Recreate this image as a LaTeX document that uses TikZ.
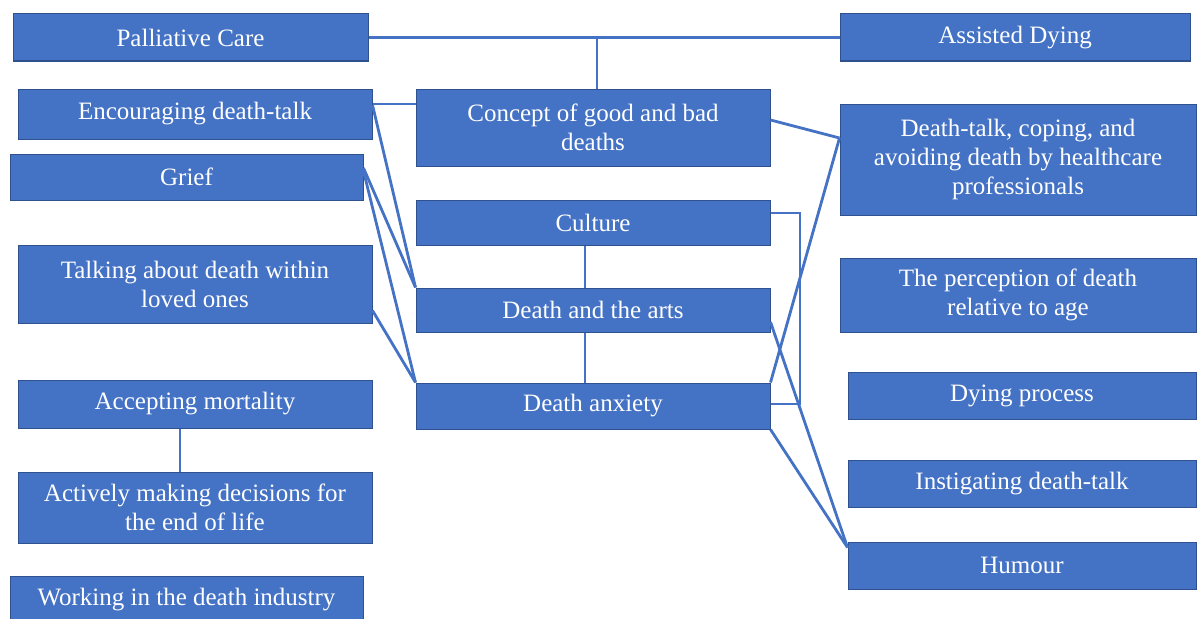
\documentclass[tikz,border=0pt]{standalone}
\usepackage{fontspec}
\setmainfont{Liberation Serif}
\definecolor{boxblue}{HTML}{4472C4}
\definecolor{boxedge}{HTML}{2F528F}
\begin{document}
\begin{tikzpicture}[x=1pt,y=-1pt,
  topic/.style={rectangle, draw=boxedge, line width=1pt, fill=boxblue, text=white,
    align=center, inner sep=0pt, font=\fontsize{25}{29}\selectfont},
  link/.style={draw=boxblue, line width=2.8pt}]
\useasboundingbox (0,0) rectangle (1198,618);
\node[topic, minimum width=355pt, minimum height=47pt] (pc) at (190.5,37.5) {Palliative Care};
\node[topic, minimum width=350pt, minimum height=47pt] (ad) at (1015,37.5) {Assisted Dying};
\node[topic, minimum width=354pt, minimum height=50pt] (enc) at (195,114) {Encouraging death-talk};
\node[topic, minimum width=354pt, minimum height=77pt] (con) at (593,127.5) {Concept of good and bad\\deaths};
\node[topic, minimum width=353pt, minimum height=46pt] (grief) at (186.5,177) {Grief};
\node[topic, minimum width=356pt, minimum height=111pt] (dtc) at (1018,159.5) {Death-talk, coping, and\\avoiding death by healthcare\\professionals};
\node[topic, minimum width=354pt, minimum height=45pt] (cul) at (593,222.5) {Culture};
\node[topic, minimum width=354pt, minimum height=78pt] (talk) at (195,284) {Talking about death within\\loved ones};
\node[topic, minimum width=356pt, minimum height=74pt] (perc) at (1018,295) {The perception of death\\relative to age};
\node[topic, minimum width=354pt, minimum height=44pt] (arts) at (593,310) {Death and the arts};
\node[topic, minimum width=354pt, minimum height=48pt] (acc) at (195,404) {Accepting mortality};
\node[topic, minimum width=354pt, minimum height=46pt] (anx) at (593,406) {Death anxiety};
\node[topic, minimum width=348pt, minimum height=47pt] (dying) at (1022,395.5) {Dying process};
\node[topic, minimum width=354pt, minimum height=71pt] (act) at (195,507.5) {Actively making decisions for\\the end of life};
\node[topic, minimum width=348pt, minimum height=47pt] (inst) at (1022,483.5) {Instigating death-talk};
\node[topic, minimum width=348pt, minimum height=47pt] (hum) at (1022,565.5) {Humour};
\node[topic, minimum width=353pt, minimum height=48pt] (work) at (186.5,600) {Working in the death industry};
\coordinate (brk) at (800,0);
% connectors
\draw[link] (pc.east) -- (ad.west);
\draw[link] ([xshift=4pt]con.north) -- ([xshift=4pt]con.north |- pc.east);
\draw[link] ([yshift=10pt]enc.east) -- ([yshift=10pt]enc.east -| con.west);
\draw[link] ([yshift=9pt]enc.east) -- (arts.north west);
\draw[link] ([yshift=9pt]grief.east) -- (arts.north west);
\draw[link] ([yshift=6pt]grief.east) -- (anx.north west);
\draw[link] ([yshift=13pt]talk.south east) -- (anx.north west);
\draw[link] ([xshift=-8pt]cul.south) -- ([xshift=-8pt]arts.north);
\draw[link] ([xshift=-8pt]arts.south) -- ([xshift=-8pt]anx.north);
\draw[link] ([xshift=-15pt]acc.south) -- ([xshift=-15pt]act.north);
\draw[link] ([yshift=9.5pt]cul.east) -- ([yshift=9.5pt]cul.east -| brk) -- ([yshift=2pt]anx.east -| brk) -- ([yshift=2pt]anx.east);
\draw[link] ([yshift=7.5pt]con.east) -- ([yshift=21.5pt]dtc.west);
\draw[link] (anx.north east) -- ([yshift=21.5pt]dtc.west);
\draw[link] ([yshift=-12pt]arts.east) -- ([yshift=-6pt]hum.north west);
\draw[link] (anx.south east) -- ([yshift=-6pt]hum.north west);
\end{tikzpicture}
\end{document}
